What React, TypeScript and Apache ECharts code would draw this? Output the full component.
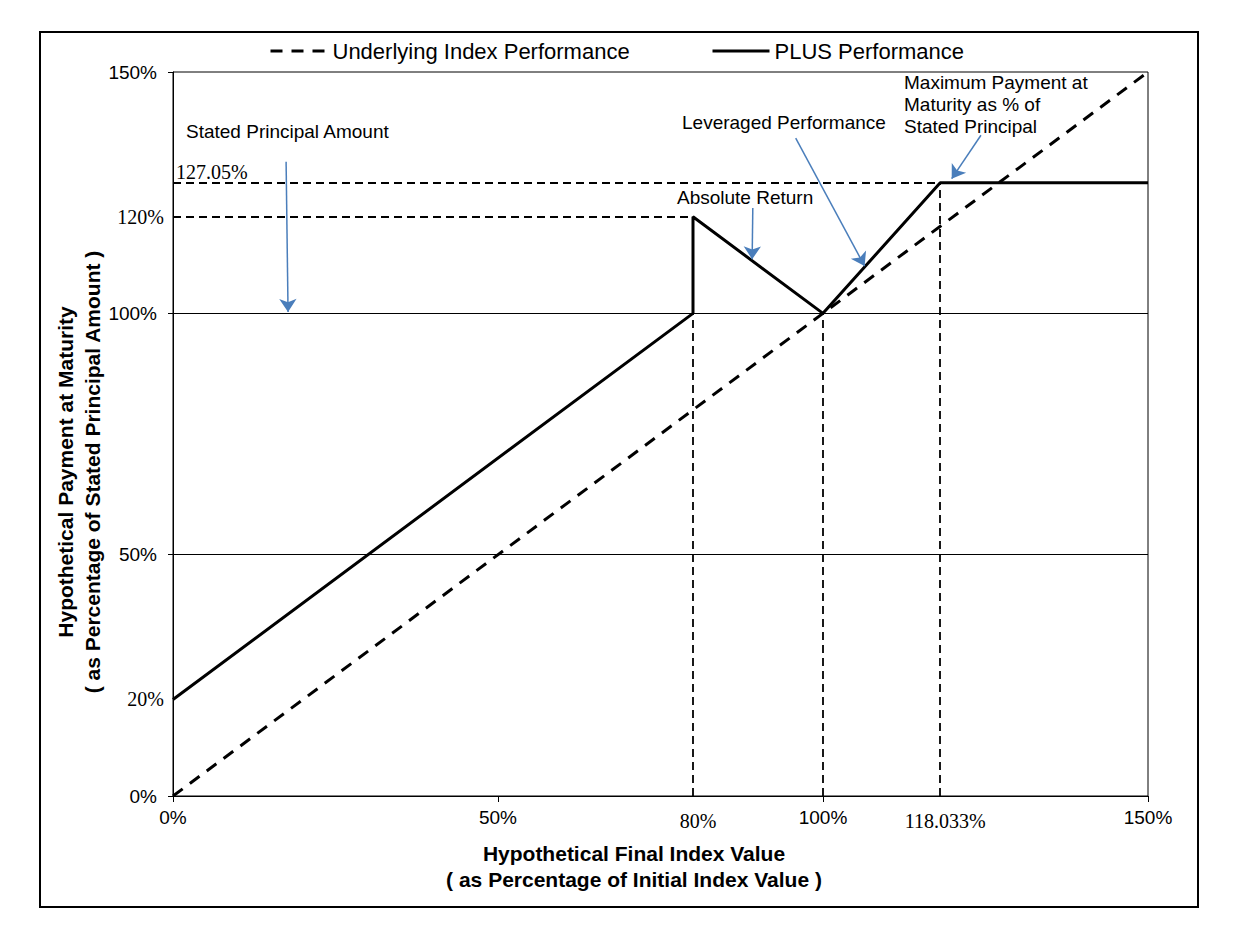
import React, { useEffect, useRef } from 'react';
import * as echarts from 'echarts';

// ---- data ----
const underlyingX = [0, 150];
const underlyingY = [0, 150];
const plusX = [0, 80, 80, 100, 118.033, 150];
const plusY = [20, 100, 120, 100, 127.05, 127.05];

const xLabelValues = [0, 50, 80, 100, 118.033, 150];
const yLabelValues = [0, 20, 50, 100, 120, 150];
const tickValues = [0, 50, 100, 150];
const serifValues = [20, 80, 118.033, 120];
const gridValues = [50, 100];

// dashed reference segments [[x1,y1],[x2,y2]]
const refSegments = [
  [[0, 127.05], [118.033, 127.05]],
  [[0, 120], [80, 120]],
  [[80, 0], [80, 100]],
  [[100, 0], [100, 100]],
  [[118.033, 0], [118.033, 127.05]],
];

// annotation arrows (data coordinates)
const arrowSegments = [
  [[17.4, 131.4], [17.7, 100.3]],
  [[89.2, 121.8], [89.1, 111.2]],
  [[95.8, 136.3], [106.4, 109.8]],
  [[124.3, 136.9], [119.8, 127.9]],
];

const SANS = '"Liberation Sans", Arial, sans-serif';
const SERIF = '"Liberation Serif", "Times New Roman", serif';

const fmt = (v: number) => {
  const s = String(Math.round(v * 1000) / 1000) + '%';
  return serifValues.some((x) => Math.abs(x - v) < 1e-6) ? `{t|${s}}` : `{s|${s}}`;
};

const legendCommon = {
  top: 35,
  itemWidth: 57,
  itemHeight: 14,
  selectedMode: false,
  itemStyle: { opacity: 0 },
  lineStyle: { width: 3 },
  textStyle: { fontFamily: SANS, fontSize: 22, color: '#000' },
};

export default function App() {
  const ref = useRef<HTMLDivElement>(null);
  useEffect(() => {
    if (!ref.current) return;
    const chart = echarts.init(ref.current, undefined, { renderer: 'svg' });
    const option: any = {
      animation: false,
      backgroundColor: '#fff',
      grid: {
        left: 173,
        top: 72,
        right: 106,
        bottom: 138,
        show: true,
        borderColor: '#000',
        borderWidth: 1,
        containLabel: false,
        outerBoundsMode: 'none',
      },
      legend: [
        { ...legendCommon, data: ['Underlying Index Performance'], left: 264 },
        { ...legendCommon, data: ['PLUS Performance'], left: 706 },
      ],
      xAxis: {
        type: 'value',
        min: 0,
        max: 150,
        axisLine: { show: true, onZero: false, lineStyle: { color: '#000', width: 1 } },
        axisTick: { show: true, customValues: tickValues, length: 6, lineStyle: { color: '#000' } },
        axisLabel: {
          customValues: xLabelValues,
          margin: 12,
          formatter: fmt,
          rich: {
            s: { fontFamily: SANS, fontSize: 19, color: '#000' },
            t: { fontFamily: SERIF, fontSize: 20, color: '#000', padding: [3, 0, 0, 10] },
          },
        },
        splitLine: { show: false },
      },
      yAxis: {
        type: 'value',
        min: 0,
        max: 150,
        axisLine: { show: true, onZero: false, lineStyle: { color: '#000', width: 1 } },
        axisTick: { show: true, customValues: tickValues, length: 5, lineStyle: { color: '#000' } },
        axisLabel: {
          customValues: yLabelValues,
          margin: 9,
          formatter: fmt,
          rich: {
            s: { fontFamily: SANS, fontSize: 19, color: '#000', padding: [0, 7, 0, 0] },
            t: { fontFamily: SERIF, fontSize: 20, color: '#000' },
          },
        },
        splitLine: { show: false },
      },
      series: [
        {
          name: 'Underlying Index Performance',
          type: 'line',
          symbol: 'none',
          data: underlyingX.map((x, i) => [x, underlyingY[i]]),
          lineStyle: { color: '#000', width: 3, type: [12, 9] },
          itemStyle: { color: '#000' },
          markLine: {
            silent: true,
            symbol: ['none', 'arrow'],
            symbolSize: 13,
            label: { show: false },
            lineStyle: { color: '#4A7EBB', width: 1.5, type: 'solid' },
            itemStyle: { color: '#4A7EBB' },
            data: arrowSegments.map((seg) => [{ coord: seg[0] }, { coord: seg[1] }]),
          },
        },
        {
          name: 'PLUS Performance',
          type: 'line',
          symbol: 'none',
          data: plusX.map((x, i) => [x, plusY[i]]),
          lineStyle: { color: '#000', width: 3, type: 'solid' },
          itemStyle: { color: '#000' },
          z: 3,
          markLine: {
            silent: true,
            symbol: ['none', 'none'],
            label: { show: false },
            data: [
              ...gridValues.map((v) => ({
                yAxis: v,
                lineStyle: { color: '#000', width: 1.2, type: 'solid' },
              })),
              ...refSegments.map((seg) => [
                { coord: seg[0], lineStyle: { color: '#000', width: 1.8, type: [8, 5] } },
                { coord: seg[1] },
              ]),
            ],
          },
        },
      ],
      graphic: [
        {
          type: 'rect',
          silent: true,
          shape: { x: 40, y: 32, width: 1158, height: 875 },
          style: { fill: 'none', stroke: '#000', lineWidth: 2 },
        },
        {
          type: 'text',
          x: 186,
          y: 131,
          style: { text: 'Stated Principal Amount', font: `19px ${SANS}`, fill: '#000', textAlign: 'left', textVerticalAlign: 'middle' },
        },
        {
          type: 'text',
          x: 176,
          y: 172,
          style: { text: '127.05%', font: `20px ${SERIF}`, fill: '#000', textAlign: 'left', textVerticalAlign: 'middle' },
        },
        {
          type: 'text',
          x: 677,
          y: 197,
          style: { text: 'Absolute Return', font: `19px ${SANS}`, fill: '#000', textAlign: 'left', textVerticalAlign: 'middle' },
        },
        {
          type: 'text',
          x: 682,
          y: 122,
          style: { text: 'Leveraged Performance', font: `19px ${SANS}`, fill: '#000', textAlign: 'left', textVerticalAlign: 'middle' },
        },
        {
          type: 'text',
          x: 904,
          y: 104,
          style: {
            text: 'Maximum Payment at\nMaturity as % of\nStated Principal',
            font: `19px ${SANS}`,
            lineHeight: 22,
            fill: '#000',
            textAlign: 'left',
            textVerticalAlign: 'middle',
          },
        },
        {
          type: 'text',
          x: 634,
          y: 866,
          style: {
            text: 'Hypothetical Final Index Value\n( as Percentage of Initial Index Value )',
            font: `bold 21px ${SANS}`,
            lineHeight: 26,
            fill: '#000',
            textAlign: 'center',
            textVerticalAlign: 'middle',
          },
        },
        {
          type: 'text',
          x: 79,
          y: 472,
          rotation: Math.PI / 2,
          style: {
            text: 'Hypothetical Payment at Maturity\n( as Percentage of Stated Principal Amount )',
            font: `bold 21px ${SANS}`,
            lineHeight: 27,
            fill: '#000',
            textAlign: 'center',
            textVerticalAlign: 'middle',
          },
        },
      ],
    };
    chart.setOption(option);
    return () => chart.dispose();
  }, []);
  return (
    <div
      ref={ref}
      style={{ position: 'absolute', left: 0, top: 0, width: 1254, height: 934, background: '#fff' }}
    />
  );
}
